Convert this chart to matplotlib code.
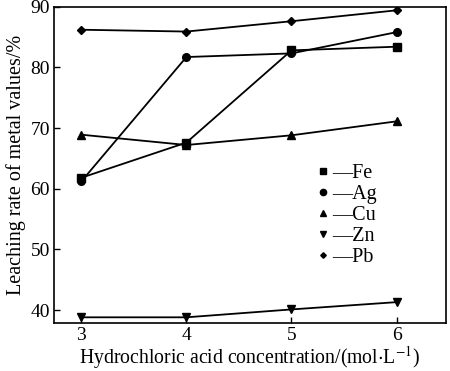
import matplotlib.pyplot as plt
from matplotlib.lines import Line2D

plt.rcParams['font.family'] = ['Liberation Serif', 'DejaVu Serif']
plt.rcParams['mathtext.fontset'] = 'stix'

# data
conc = [3, 4, 5, 6]
fe = [61.8, 67.6, 82.8, 83.4]
ag = [61.2, 81.7, 82.3, 85.8]
cu = [68.9, 67.2, 68.8, 71.1]
zn = [38.8, 38.8, 40.1, 41.3]
pb = [86.2, 85.9, 87.6, 89.4]

series = [("Fe", fe, 's', 5.5), ("Ag", ag, 'o', 5.5), ("Cu", cu, '^', 5.5),
          ("Zn", zn, 'v', 5.5), ("Pb", pb, 'D', 3.8)]

fig = plt.figure(figsize=(4.5, 3.71), dpi=100)
ax = fig.add_axes([0.12, 0.13, 0.871, 0.852])

handles = []
for name, vals, mk, ms in series:
    ax.plot(conc, vals, color='black', lw=1.3, marker=mk, markersize=ms)
    handles.append(Line2D([], [], color='black', ls='none', marker=mk,
                          markersize=ms - 1, label='\u2014' + name))

ax.set_xlim(2.74, 6.47)
ax.set_ylim(37.9, 90)
ax.set_xticks(conc)
ax.set_yticks([40, 50, 60, 70, 80, 90])
ax.tick_params(direction='in', length=4, labelsize=14, width=1, pad=3)
for sp in ax.spines.values():
    sp.set_linewidth(1.2)

ax.set_xlabel(r'Hydrochloric acid concentration/(mol$\cdot$L$^{-1}$)', fontsize=14.2, labelpad=0)
ax.set_ylabel('Leaching rate of metal values/%', fontsize=14.5, labelpad=3)

ax.legend(handles=handles, loc='upper left', bbox_to_anchor=(0.645, 0.535),
          frameon=False, fontsize=14.5, handlelength=0.6, handletextpad=0.15,
          labelspacing=0.1, borderpad=0)

fig.savefig('out.png', dpi=100)
